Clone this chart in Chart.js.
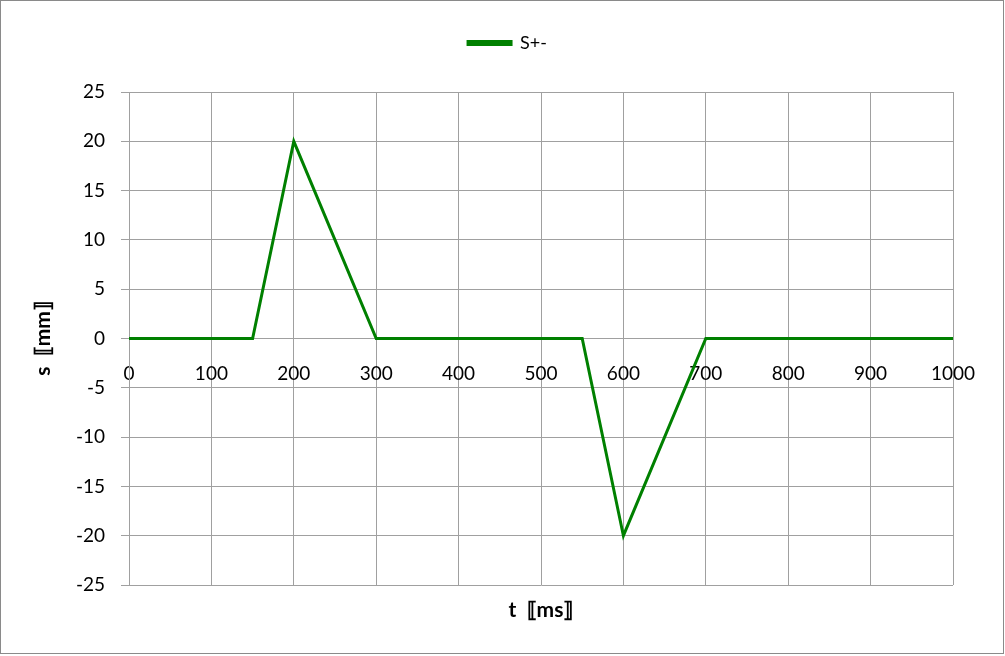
<!DOCTYPE html>
<html>
<head>
<meta charset="utf-8">
<script src="https://cdn.jsdelivr.net/npm/chart.js@4"></script>
<style>
html,body{margin:0;padding:0;background:#fff;}
#wrap{width:1005px;height:656px;position:relative;}
</style>
</head>
<body>
<div id="wrap"><canvas id="c" width="1005" height="656"></canvas></div>
<script>
const seriesName = "S+-";
const timesMs = [0, 150, 200, 300, 550, 600, 700, 1000];
const sValuesMm = [0, 0, 20, 0, 0, -20, 0, 0];
const xTitle = "t  \u27E6ms\u27E7";
const yTitle = "s  \u27E6mm\u27E7";

const points = timesMs.map((t, i) => ({x: t, y: sValuesMm[i]}));
const FONT = "Lato, 'Open Sans', sans-serif";
const GRID = "#a0a0a0";

const decor = {
  id: "decor",
  beforeInit(chart) {
    const lg = chart.legend;
    if (lg) {
      const fit = lg.fit;
      lg.fit = function () { fit.call(this); this.height += 30; };
    }
  },
  afterLayout(chart) {
    const lg = chart.legend;
    if (lg) { lg.left += 31; lg.right += 31; }
  },
  afterDraw(chart) {
    const ctx = chart.ctx;
    const a = chart.chartArea;
    ctx.save();
    ctx.fillStyle = "#000";
    ctx.font = "bold 21px " + FONT;
    ctx.textAlign = "center";
    ctx.textBaseline = "middle";
    ctx.fillText(xTitle, (a.left + a.right) / 2, 610);
    ctx.translate(43, (a.top + a.bottom) / 2);
    ctx.rotate(-Math.PI / 2);
    ctx.fillText(yTitle, 0, 0);
    ctx.restore();
    ctx.save();
    ctx.strokeStyle = "#8a8a8a";
    ctx.lineWidth = 1;
    ctx.strokeRect(0.5, 0.5, 1003, 653);
    ctx.restore();
  }
};

new Chart(document.getElementById("c"), {
  type: "scatter",
  data: {
    datasets: [{
      label: seriesName,
      data: points,
      showLine: true,
      borderColor: "#008000",
      backgroundColor: "#008000",
      borderWidth: 3,
      pointRadius: 0,
      tension: 0
    }]
  },
  options: {
    responsive: false,
    animation: false,
    layout: {padding: {top: 8, right: 52, bottom: 71, left: 0}},
    plugins: {
      tooltip: {enabled: false},
      legend: {
        position: "top",
        labels: {
          font: {family: FONT, size: 18},
          color: "#000",
          boxWidth: 43,
          boxHeight: 3,
          padding: 26
        }
      }
    },
    scales: {
      x: {
        type: "linear",
        position: {y: 0},
        min: 0, max: 1000,
        ticks: {stepSize: 100, color: "#000", font: {family: FONT, size: 19}, padding: 24, maxRotation: 0,
                callback: (v) => String(v)},
        grid: {color: GRID, lineWidth: 1, drawTicks: false},
        border: {color: GRID}
      },
      y: {
        min: -25, max: 25,
        afterFit(scale) { scale.width = 129; },
        ticks: {stepSize: 5, color: "#000", font: {family: FONT, size: 19}, padding: 16},
        grid: {color: GRID, lineWidth: 1, tickLength: 8},
        border: {color: GRID}
      }
    }
  },
  plugins: [decor]
});
</script>
</body>
</html>
